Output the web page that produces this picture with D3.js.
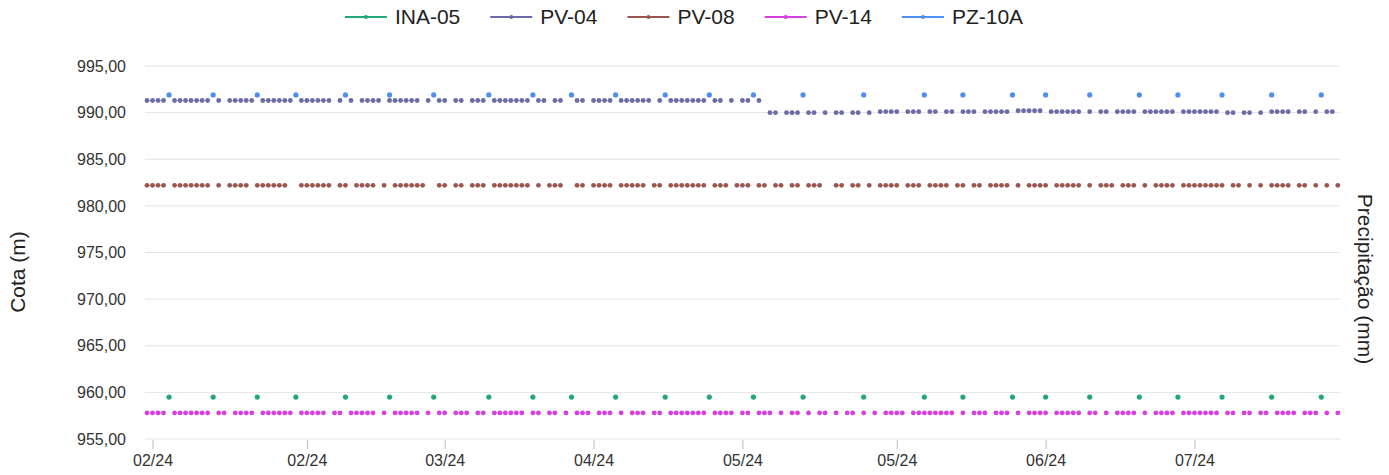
<!DOCTYPE html>
<html><head><meta charset="utf-8">
<script src="https://cdn.jsdelivr.net/npm/d3@7"></script>
<style>
html,body{margin:0;padding:0;background:#fff;}
svg{display:block;font-family:"Liberation Sans",Arial,Helvetica,sans-serif;}
</style></head><body>
<svg id="chart" width="1389" height="475"></svg>
<script>
const n = null;
// ---------------- data ----------------
const seriesNames  = ["INA-05", "PV-04", "PV-08", "PV-14", "PZ-10A"];
const seriesColors = ["#22a67a", "#6b6ba6", "#9c5652", "#d63fe0", "#4f8ff5"];
const yTicks = [955, 960, 965, 970, 975, 980, 985, 990, 995];
const xTickIndex  = [1, 29, 54, 81, 108, 136, 163, 190];
const xTickLabels = ["02/24", "02/24", "03/24", "04/24", "05/24", "05/24", "06/24", "07/24"];

// daily readings (one slot per day, null = no reading)
const pv04 = [
 991.3,991.3,991.3,991.3,n,991.3,991.3,991.3,991.3,991.3,
 991.3,991.3,n,991.3,n,991.3,991.3,991.3,991.3,991.3,
 n,991.3,991.3,991.3,991.3,991.3,991.3,n,991.3,991.3,
 991.3,991.3,991.3,991.3,n,991.3,n,991.3,n,991.3,
 991.3,991.3,991.3,n,991.3,991.3,991.3,991.3,991.3,991.3,
 n,991.3,n,991.3,991.3,n,991.3,991.3,n,991.3,
 991.3,991.3,n,991.3,991.3,991.3,991.3,991.3,991.3,991.3,
 n,991.3,991.3,n,991.3,991.3,n,n,991.3,991.3,
 n,991.3,991.3,991.3,991.3,n,991.3,991.3,991.3,991.3,
 991.3,991.3,n,991.3,n,991.3,991.3,991.3,991.3,991.3,
 991.3,991.3,n,991.3,991.3,n,991.3,n,991.3,991.3,
 n,991.3,n,990.0,990.0,n,990.0,990.0,990.0,n,
 990.0,990.0,n,990.0,n,990.0,990.0,n,990.0,990.0,
 n,990.0,n,990.1,990.1,990.1,990.1,n,990.1,990.1,
 990.1,n,990.1,990.1,n,990.1,990.1,n,990.1,990.1,
 990.1,n,990.1,990.1,990.1,990.1,990.1,n,990.2,990.2,
 990.2,990.2,990.2,n,990.1,990.1,990.1,990.1,990.1,990.1,
 n,990.1,n,990.1,990.1,n,990.1,990.1,990.1,990.1,
 n,990.1,990.1,990.1,990.1,990.1,990.1,n,990.1,990.1,
 990.1,990.1,990.1,990.1,990.1,n,990.0,990.0,n,990.0,
 990.0,n,990.0,n,990.1,990.1,990.1,990.1,n,990.1,
 990.1,n,990.1,n,990.1,990.1,n
];
const pv08 = [
 982.2,982.2,982.2,982.2,n,982.2,982.2,982.2,982.2,982.2,
 982.2,982.2,n,982.2,n,982.2,982.2,982.2,982.2,n,
 982.2,982.2,982.2,982.2,982.2,982.2,n,n,982.2,982.2,
 982.2,982.2,982.2,982.2,n,982.2,982.2,n,982.2,982.2,
 982.2,982.2,n,982.2,n,982.2,982.2,982.2,982.2,982.2,
 982.2,n,n,982.2,982.2,n,982.2,982.2,n,982.2,
 982.2,982.2,n,982.2,982.2,982.2,982.2,982.2,982.2,982.2,
 n,982.2,n,982.2,982.2,982.2,n,n,982.2,982.2,
 n,982.2,982.2,982.2,982.2,n,982.2,982.2,982.2,982.2,
 982.2,n,982.2,982.2,n,982.2,982.2,982.2,982.2,982.2,
 982.2,982.2,n,982.2,982.2,982.2,n,982.2,982.2,982.2,
 n,982.2,982.2,n,982.2,982.2,n,982.2,982.2,n,
 982.2,982.2,982.2,n,n,982.2,982.2,n,982.2,982.2,
 n,982.2,n,982.2,982.2,982.2,982.2,n,982.2,982.2,
 982.2,n,982.2,982.2,982.2,982.2,n,982.2,982.2,n,
 982.2,982.2,n,982.2,982.2,982.2,982.2,n,982.2,n,
 982.2,982.2,982.2,982.2,n,982.2,982.2,982.2,982.2,982.2,
 n,982.2,n,982.2,982.2,982.2,n,982.2,982.2,982.2,
 n,982.2,n,982.2,982.2,982.2,982.2,n,982.2,982.2,
 982.2,982.2,982.2,982.2,982.2,982.2,n,982.2,982.2,n,
 982.2,n,982.2,n,982.2,982.2,982.2,982.2,n,982.2,
 982.2,n,982.2,n,982.2,n,982.2
];
const pv14 = [
 957.8,957.8,957.8,957.8,n,957.8,957.8,957.8,957.8,957.8,
 957.8,957.8,n,957.8,957.8,n,957.8,957.8,957.8,957.8,
 n,957.8,957.8,957.8,957.8,957.8,957.8,n,957.8,957.8,
 957.8,957.8,957.8,n,957.8,957.8,n,957.8,957.8,957.8,
 957.8,957.8,n,957.8,n,957.8,957.8,957.8,957.8,957.8,
 n,957.8,n,957.8,957.8,n,957.8,957.8,957.8,n,
 957.8,957.8,n,957.8,957.8,957.8,957.8,957.8,957.8,n,
 957.8,957.8,n,957.8,957.8,n,957.8,n,957.8,957.8,
 957.8,n,957.8,957.8,957.8,n,957.8,n,957.8,957.8,
 957.8,n,957.8,957.8,n,957.8,957.8,957.8,957.8,957.8,
 957.8,957.8,n,957.8,957.8,957.8,957.8,n,957.8,957.8,
 n,957.8,957.8,957.8,n,957.8,n,957.8,957.8,n,
 957.8,n,957.8,957.8,n,957.8,n,957.8,957.8,n,
 957.8,n,957.8,n,957.8,957.8,957.8,957.8,n,957.8,
 957.8,957.8,957.8,957.8,957.8,957.8,957.8,n,957.8,n,
 957.8,957.8,957.8,n,957.8,957.8,957.8,n,957.8,n,
 957.8,957.8,957.8,957.8,n,957.8,957.8,957.8,957.8,957.8,
 n,957.8,957.8,n,957.8,n,957.8,957.8,957.8,957.8,
 n,957.8,n,957.8,957.8,957.8,957.8,n,957.8,957.8,
 957.8,957.8,957.8,957.8,957.8,n,957.8,957.8,n,957.8,
 957.8,n,957.8,957.8,n,957.8,957.8,957.8,957.8,n,
 957.8,957.8,957.8,n,957.8,n,957.8
];
// weekly readings (day slot, value)
const ina05Index  = [4,12,20,27,36,44,52,62,70,77,85,94,102,110,119,130,141,148,157,163,171,180,187,195,204,213];
const ina05Values = [959.5,959.5,959.5,959.5,959.5,959.5,959.5,959.5,959.5,959.5,959.5,959.5,959.5,959.5,959.5,959.5,959.5,959.5,959.5,959.5,959.5,959.5,959.5,959.5,959.5,959.5];
const pz10aIndex  = [4,12,20,27,36,44,52,62,70,77,85,94,102,110,119,130,141,148,157,163,171,180,187,195,204,213];
const pz10aValues = [991.9,991.9,991.9,991.9,991.9,991.9,991.9,991.9,991.9,991.9,991.9,991.9,991.9,991.9,991.9,991.9,991.9,991.9,991.9,991.9,991.9,991.9,991.9,991.9,991.9,991.9];

// ---------------- chart ----------------
const svg = d3.select("#chart");
const plotLeft = 145, plotRight = 1340, plotTop = 66, plotBottom = 439;
const lastSlot = pv04.length - 1;

const x = d3.scaleLinear().domain([0, lastSlot]).range([147, 1337.8]);
const y = d3.scaleLinear().domain([d3.min(yTicks), d3.max(yTicks)]).range([plotBottom, plotTop]);

const locale = d3.formatLocale({decimal: ",", thousands: ".", grouping: [3], currency: ["R$", ""]});
const fmt = locale.format(".2f");

// gridlines
svg.append("g").selectAll("line").data(yTicks).join("line")
  .attr("x1", plotLeft).attr("x2", plotRight)
  .attr("y1", d => y(d)).attr("y2", d => y(d))
  .attr("stroke", "#e4e4e4").attr("stroke-width", 1);

// y labels
const yAxis = d3.axisLeft(y).tickValues(yTicks).tickFormat(fmt).tickSize(0).tickPadding(0);
const gy = svg.append("g").attr("transform", "translate(126,0)").call(yAxis);
gy.select(".domain").remove();
gy.selectAll("text").attr("font-size", 16).attr("fill", "#333")
  .attr("font-family", '"Liberation Sans",Arial,sans-serif');

// x axis
const xAxis = d3.axisBottom(x).tickValues(xTickIndex)
  .tickFormat((d, i) => xTickLabels[i]).tickSize(9).tickPadding(6);
const gx = svg.append("g").attr("transform", `translate(0,${plotBottom + 1})`).call(xAxis);
gx.select(".domain").remove();
gx.selectAll(".tick line").attr("stroke", "#bbb");
gx.selectAll("text").attr("font-size", 16).attr("fill", "#333")
  .attr("font-family", '"Liberation Sans",Arial,sans-serif');

// series
const daily = [
  {name: "PV-04", values: pv04},
  {name: "PV-08", values: pv08},
  {name: "PV-14", values: pv14}
];
const weekly = [
  {name: "INA-05", idx: ina05Index, values: ina05Values},
  {name: "PZ-10A", idx: pz10aIndex, values: pz10aValues}
];
const colorOf = name => seriesColors[seriesNames.indexOf(name)];

const line = d3.line().defined(d => d.v !== null).x(d => x(d.i)).y(d => y(d.v));
const gS = svg.append("g");
daily.forEach(s => {
  const pts = s.values.map((v, i) => ({i, v}));
  gS.append("path").datum(pts).attr("d", line)
    .attr("fill", "none").attr("stroke", colorOf(s.name)).attr("stroke-width", 1).attr("stroke-opacity", 0.45);
  gS.append("g").selectAll("circle").data(pts.filter(p => p.v !== null)).join("circle")
    .attr("cx", d => x(d.i)).attr("cy", d => y(d.v)).attr("r", 2.4)
    .attr("fill", colorOf(s.name));
});
weekly.forEach(s => {
  const pts = s.idx.map((ix, k) => ({i: ix, v: s.values[k]}));
  gS.append("g").selectAll("circle").data(pts).join("circle")
    .attr("cx", d => x(d.i)).attr("cy", d => y(d.v)).attr("r", 2.6)
    .attr("fill", colorOf(s.name));
});

// axis titles
svg.append("text").attr("transform", "translate(25,272) rotate(-90)")
  .attr("text-anchor", "middle").attr("font-size", 21).attr("fill", "#222").text("Cota (m)");
svg.append("text").attr("transform", "translate(1358,279) rotate(90)")
  .attr("text-anchor", "middle").attr("font-size", 21).attr("fill", "#222").text("Precipitação (mm)");

// legend
const gL = svg.append("g");
const swatch = 42, pad = 8, gap = 30, legendY = 17;
let cursor = 0;
const items = seriesNames.map((nm, i) => {
  const g = gL.append("g");
  g.append("line").attr("x1", 0).attr("x2", swatch).attr("y1", 0).attr("y2", 0)
    .attr("stroke", seriesColors[i]).attr("stroke-width", 2);
  g.append("circle").attr("cx", swatch / 2).attr("cy", 0).attr("r", 2).attr("fill", seriesColors[i]);
  const t = g.append("text").attr("x", swatch + pad).attr("y", 0).attr("dy", "0.35em")
    .attr("font-size", 21).attr("fill", "#222").text(nm);
  const w = swatch + pad + t.node().getComputedTextLength();
  const item = {g, x: cursor, w};
  cursor += w + gap;
  return item;
});
const total = cursor - gap;
const startX = 684 - total / 2;
items.forEach(it => it.g.attr("transform", `translate(${startX + it.x},${legendY})`));
</script>
</body></html>
